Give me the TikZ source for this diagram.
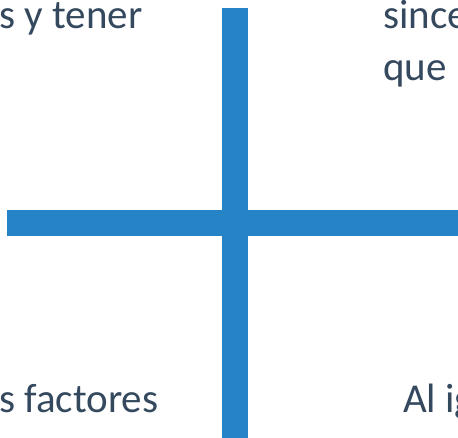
\documentclass[tikz,border=0pt]{standalone}
\usepackage{fontspec}
\setmainfont{Carlito}
\definecolor{barblue}{RGB}{38,131,198}
\definecolor{textslate}{RGB}{52,72,94}
\tikzset{
    every node/.style={inner sep=0pt, anchor=base west, text=textslate,
    	font=\fontsize{41}{48}\selectfont}
}
\tikzset{
    bar/.style={draw=barblue, line width=26pt}
}
\begin{document}
\begin{tikzpicture}[x=1pt,y=-1pt]
	\useasboundingbox (0,0) rectangle (458,437);
	\clip (0,0) rectangle (458,437);
	\coordinate (top) at (235,8);
	\coordinate (bottom) at (235,445);
	\coordinate (left) at (7,223);
	\coordinate (right) at (465,223);
	\draw [bar] (left) -- (right);
	\draw [bar] (top) -- (bottom);
	\node (tl) at (-1,28) {s y tener};
	\node (tr1) at (383,28) {since};
	\node (tr2) at (383,80) {que};
	\node (bl) at (-1,412) {s factores};
	\node (br) at (403,412) {Al ig};
\end{tikzpicture}
\end{document}
